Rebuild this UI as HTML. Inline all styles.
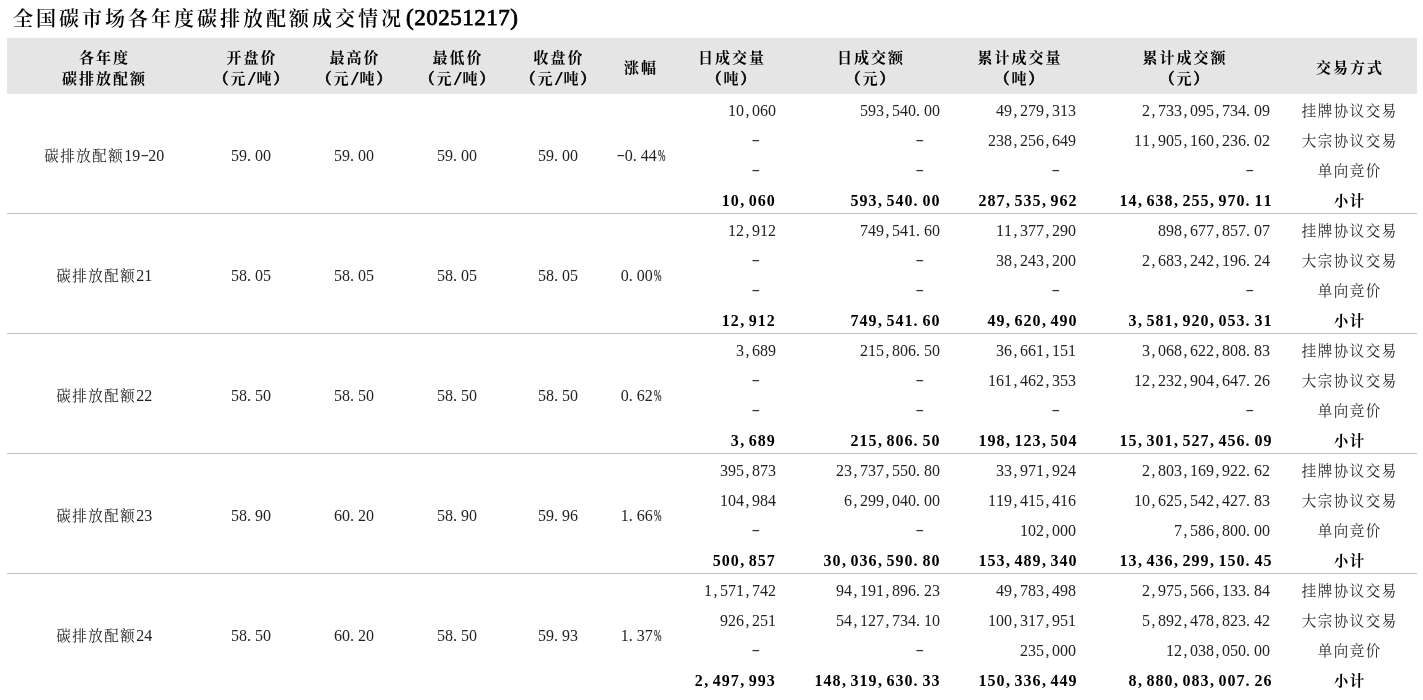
<!DOCTYPE html>
<html lang="zh-CN"><head><meta charset="utf-8"><title>全国碳市场各年度碳排放配额成交情况</title>
<style>
html,body{margin:0;padding:0;background:#fff;}
body{width:1423px;height:700px;overflow:hidden;position:relative;font-family:"Liberation Serif", "Noto Serif CJK SC", serif;}
.title{position:absolute;left:13px;top:4px;height:30px;line-height:30px;color:#000;white-space:nowrap;}
.title .cj{font-size:20px;font-weight:600;letter-spacing:3px;}
.title .n{font-size:23px;font-weight:normal;letter-spacing:0.5px;font-family:"Liberation Serif",serif;margin-left:2px;position:relative;top:-0.8px;-webkit-text-stroke:0.75px;}
.hd{position:absolute;left:7px;top:38px;width:1410px;height:56px;background:#e5e5e5;}
.t{position:absolute;white-space:nowrap;font-size:14.5px;letter-spacing:1.5px;}
.t.c{text-align:center;text-indent:1.5px}
.t.c.h{text-indent:2px}.t.r{text-align:right}
.h{font-size:15px;font-weight:bold;color:#000;letter-spacing:2px;}
.h .sl{display:inline-block;text-indent:0;width:9px;font-style:normal;text-align:center;font-family:"Liberation Serif",serif;font-size:17px;font-weight:bold;letter-spacing:0;}
.h .sl b{display:inline-block;transform:translate(-0.5px,0.6px) scale(1.6,1.12);}
.h .pa{-webkit-text-stroke:0.6px;}
.b{color:#222;}
.bb{font-weight:bold;color:#000;}
.t i{display:inline-block;font-style:normal;text-align:center;text-indent:0;font-family:"Liberation Serif",serif;font-size:16px;letter-spacing:0;}
.t i.d b{display:inline-block;font-weight:normal;color:#333;transform:translate(0px,-1px) scale(1.6,1.0);}
.t i.p{text-align:left;}
.t i.cm{text-indent:1.5px;}.t i.pd{text-indent:0px;}
.bb i.cm{text-indent:1.0px;}.bb i.pd{text-indent:0.6px;}
.t i.pc b{display:inline-block;font-weight:normal;transform:translateX(-1.9px) scaleX(0.56);-webkit-text-stroke:0.25px;}
.ln{position:absolute;left:7px;width:1410px;height:1px;background:#c0c0c0;}
</style></head><body>
<div class="title"><span class="cj">全国碳市场各年度碳排放配额成交情况</span><span class="n">(20251217)</span></div>
<div class="hd"></div>
<div class="t c h" style="left:3.5px;top:48.0px;width:200px;height:20px;line-height:20px">各年度</div>
<div class="t c h" style="left:3.5px;top:68.5px;width:200px;height:20px;line-height:20px">碳排放配额</div>
<div class="t c h" style="left:151.0px;top:48.0px;width:200px;height:20px;line-height:20px">开盘价</div>
<div class="t c h" style="left:151.0px;top:68.5px;width:200px;height:20px;line-height:20px"><span class="pa">（</span>元<i class="sl"><b>/</b></i>吨<span class="pa">）</span></div>
<div class="t c h" style="left:254.0px;top:48.0px;width:200px;height:20px;line-height:20px">最高价</div>
<div class="t c h" style="left:254.0px;top:68.5px;width:200px;height:20px;line-height:20px"><span class="pa">（</span>元<i class="sl"><b>/</b></i>吨<span class="pa">）</span></div>
<div class="t c h" style="left:357.0px;top:48.0px;width:200px;height:20px;line-height:20px">最低价</div>
<div class="t c h" style="left:357.0px;top:68.5px;width:200px;height:20px;line-height:20px"><span class="pa">（</span>元<i class="sl"><b>/</b></i>吨<span class="pa">）</span></div>
<div class="t c h" style="left:458.0px;top:48.0px;width:200px;height:20px;line-height:20px">收盘价</div>
<div class="t c h" style="left:458.0px;top:68.5px;width:200px;height:20px;line-height:20px"><span class="pa">（</span>元<i class="sl"><b>/</b></i>吨<span class="pa">）</span></div>
<div class="t c h" style="left:540.0px;top:57.5px;width:200px;height:20px;line-height:20px">涨幅</div>
<div class="t c h" style="left:631.0px;top:48.0px;width:200px;height:20px;line-height:20px">日成交量</div>
<div class="t c h" style="left:631.0px;top:68.5px;width:200px;height:20px;line-height:20px"><span class="pa">（</span>吨<span class="pa">）</span></div>
<div class="t c h" style="left:770.0px;top:48.0px;width:200px;height:20px;line-height:20px">日成交额</div>
<div class="t c h" style="left:770.0px;top:68.5px;width:200px;height:20px;line-height:20px"><span class="pa">（</span>元<span class="pa">）</span></div>
<div class="t c h" style="left:919.0px;top:48.0px;width:200px;height:20px;line-height:20px">累计成交量</div>
<div class="t c h" style="left:919.0px;top:68.5px;width:200px;height:20px;line-height:20px"><span class="pa">（</span>吨<span class="pa">）</span></div>
<div class="t c h" style="left:1084.0px;top:48.0px;width:200px;height:20px;line-height:20px">累计成交额</div>
<div class="t c h" style="left:1084.0px;top:68.5px;width:200px;height:20px;line-height:20px"><span class="pa">（</span>元<span class="pa">）</span></div>
<div class="t c h" style="left:1249.0px;top:57.5px;width:200px;height:20px;line-height:20px">交易方式</div>
<div class="t c b" style="left:-46.5px;top:140.5px;width:300px;height:30px;line-height:30px">碳排放配额<i style="width:8px">1</i><i style="width:8px">9</i><i class="d" style="width:8px"><b>-</b></i><i style="width:8px">2</i><i style="width:8px">0</i></div>
<div class="t c b" style="left:190.2px;top:140.5px;width:120px;height:30px;line-height:30px"><i style="width:8px">5</i><i style="width:8px">9</i><i class="p pd" style="width:8px">.</i><i style="width:8px">0</i><i style="width:8px">0</i></div>
<div class="t c b" style="left:293.2px;top:140.5px;width:120px;height:30px;line-height:30px"><i style="width:8px">5</i><i style="width:8px">9</i><i class="p pd" style="width:8px">.</i><i style="width:8px">0</i><i style="width:8px">0</i></div>
<div class="t c b" style="left:396.2px;top:140.5px;width:120px;height:30px;line-height:30px"><i style="width:8px">5</i><i style="width:8px">9</i><i class="p pd" style="width:8px">.</i><i style="width:8px">0</i><i style="width:8px">0</i></div>
<div class="t c b" style="left:497.2px;top:140.5px;width:120px;height:30px;line-height:30px"><i style="width:8px">5</i><i style="width:8px">9</i><i class="p pd" style="width:8px">.</i><i style="width:8px">0</i><i style="width:8px">0</i></div>
<div class="t c b" style="left:580.0px;top:140.5px;width:120px;height:30px;line-height:30px"><i class="d" style="width:8px"><b>-</b></i><i style="width:8px">0</i><i class="p pd" style="width:8px">.</i><i style="width:8px">4</i><i style="width:8px">4</i><i class="pc" style="width:8px"><b>%</b></i></div>
<div class="t r b" style="left:526.0px;top:95.5px;width:250px;height:30px;line-height:30px"><i style="width:8px">1</i><i style="width:8px">0</i><i class="p cm" style="width:8px">,</i><i style="width:8px">0</i><i style="width:8px">6</i><i style="width:8px">0</i></div>
<div class="t r b" style="left:690.0px;top:95.5px;width:250px;height:30px;line-height:30px"><i style="width:8px">5</i><i style="width:8px">9</i><i style="width:8px">3</i><i class="p cm" style="width:8px">,</i><i style="width:8px">5</i><i style="width:8px">4</i><i style="width:8px">0</i><i class="p pd" style="width:8px">.</i><i style="width:8px">0</i><i style="width:8px">0</i></div>
<div class="t r b" style="left:826.0px;top:95.5px;width:250px;height:30px;line-height:30px"><i style="width:8px">4</i><i style="width:8px">9</i><i class="p cm" style="width:8px">,</i><i style="width:8px">2</i><i style="width:8px">7</i><i style="width:8px">9</i><i class="p cm" style="width:8px">,</i><i style="width:8px">3</i><i style="width:8px">1</i><i style="width:8px">3</i></div>
<div class="t r b" style="left:1020.0px;top:95.5px;width:250px;height:30px;line-height:30px"><i style="width:8px">2</i><i class="p cm" style="width:8px">,</i><i style="width:8px">7</i><i style="width:8px">3</i><i style="width:8px">3</i><i class="p cm" style="width:8px">,</i><i style="width:8px">0</i><i style="width:8px">9</i><i style="width:8px">5</i><i class="p cm" style="width:8px">,</i><i style="width:8px">7</i><i style="width:8px">3</i><i style="width:8px">4</i><i class="p pd" style="width:8px">.</i><i style="width:8px">0</i><i style="width:8px">9</i></div>
<div class="t c b" style="left:1274.0px;top:95.5px;width:150px;height:30px;line-height:30px">挂牌协议交易</div>
<div class="t r b" style="left:526.0px;top:125.5px;width:250px;height:30px;line-height:30px"><i class="d" style="width:8px"><b>-</b></i><i style="width:16px"></i></div>
<div class="t r b" style="left:690.0px;top:125.5px;width:250px;height:30px;line-height:30px"><i class="d" style="width:8px"><b>-</b></i><i style="width:16px"></i></div>
<div class="t r b" style="left:826.0px;top:125.5px;width:250px;height:30px;line-height:30px"><i style="width:8px">2</i><i style="width:8px">3</i><i style="width:8px">8</i><i class="p cm" style="width:8px">,</i><i style="width:8px">2</i><i style="width:8px">5</i><i style="width:8px">6</i><i class="p cm" style="width:8px">,</i><i style="width:8px">6</i><i style="width:8px">4</i><i style="width:8px">9</i></div>
<div class="t r b" style="left:1020.0px;top:125.5px;width:250px;height:30px;line-height:30px"><i style="width:8px">1</i><i style="width:8px">1</i><i class="p cm" style="width:8px">,</i><i style="width:8px">9</i><i style="width:8px">0</i><i style="width:8px">5</i><i class="p cm" style="width:8px">,</i><i style="width:8px">1</i><i style="width:8px">6</i><i style="width:8px">0</i><i class="p cm" style="width:8px">,</i><i style="width:8px">2</i><i style="width:8px">3</i><i style="width:8px">6</i><i class="p pd" style="width:8px">.</i><i style="width:8px">0</i><i style="width:8px">2</i></div>
<div class="t c b" style="left:1274.0px;top:125.5px;width:150px;height:30px;line-height:30px">大宗协议交易</div>
<div class="t r b" style="left:526.0px;top:155.5px;width:250px;height:30px;line-height:30px"><i class="d" style="width:8px"><b>-</b></i><i style="width:16px"></i></div>
<div class="t r b" style="left:690.0px;top:155.5px;width:250px;height:30px;line-height:30px"><i class="d" style="width:8px"><b>-</b></i><i style="width:16px"></i></div>
<div class="t r b" style="left:826.0px;top:155.5px;width:250px;height:30px;line-height:30px"><i class="d" style="width:8px"><b>-</b></i><i style="width:16px"></i></div>
<div class="t r b" style="left:1020.0px;top:155.5px;width:250px;height:30px;line-height:30px"><i class="d" style="width:8px"><b>-</b></i><i style="width:16px"></i></div>
<div class="t c b" style="left:1274.0px;top:155.5px;width:150px;height:30px;line-height:30px">单向竞价</div>
<div class="t r b bb" style="left:525.3px;top:185.5px;width:250px;height:30px;line-height:30px"><i style="width:9px">1</i><i style="width:9px">0</i><i class="p cm" style="width:9px">,</i><i style="width:9px">0</i><i style="width:9px">6</i><i style="width:9px">0</i></div>
<div class="t r b bb" style="left:690.0px;top:185.5px;width:250px;height:30px;line-height:30px"><i style="width:9px">5</i><i style="width:9px">9</i><i style="width:9px">3</i><i class="p cm" style="width:9px">,</i><i style="width:9px">5</i><i style="width:9px">4</i><i style="width:9px">0</i><i class="p pd" style="width:9px">.</i><i style="width:9px">0</i><i style="width:9px">0</i></div>
<div class="t r b bb" style="left:827.0px;top:185.5px;width:250px;height:30px;line-height:30px"><i style="width:9px">2</i><i style="width:9px">8</i><i style="width:9px">7</i><i class="p cm" style="width:9px">,</i><i style="width:9px">5</i><i style="width:9px">3</i><i style="width:9px">5</i><i class="p cm" style="width:9px">,</i><i style="width:9px">9</i><i style="width:9px">6</i><i style="width:9px">2</i></div>
<div class="t r b bb" style="left:1022.0px;top:185.5px;width:250px;height:30px;line-height:30px"><i style="width:9px">1</i><i style="width:9px">4</i><i class="p cm" style="width:9px">,</i><i style="width:9px">6</i><i style="width:9px">3</i><i style="width:9px">8</i><i class="p cm" style="width:9px">,</i><i style="width:9px">2</i><i style="width:9px">5</i><i style="width:9px">5</i><i class="p cm" style="width:9px">,</i><i style="width:9px">9</i><i style="width:9px">7</i><i style="width:9px">0</i><i class="p pd" style="width:9px">.</i><i style="width:9px">1</i><i style="width:9px">1</i></div>
<div class="t c b bb" style="left:1274.0px;top:185.5px;width:150px;height:30px;line-height:30px">小计</div>
<div class="ln" style="top:213px"></div>
<div class="t c b" style="left:-46.5px;top:260.5px;width:300px;height:30px;line-height:30px">碳排放配额<i style="width:8px">2</i><i style="width:8px">1</i></div>
<div class="t c b" style="left:190.2px;top:260.5px;width:120px;height:30px;line-height:30px"><i style="width:8px">5</i><i style="width:8px">8</i><i class="p pd" style="width:8px">.</i><i style="width:8px">0</i><i style="width:8px">5</i></div>
<div class="t c b" style="left:293.2px;top:260.5px;width:120px;height:30px;line-height:30px"><i style="width:8px">5</i><i style="width:8px">8</i><i class="p pd" style="width:8px">.</i><i style="width:8px">0</i><i style="width:8px">5</i></div>
<div class="t c b" style="left:396.2px;top:260.5px;width:120px;height:30px;line-height:30px"><i style="width:8px">5</i><i style="width:8px">8</i><i class="p pd" style="width:8px">.</i><i style="width:8px">0</i><i style="width:8px">5</i></div>
<div class="t c b" style="left:497.2px;top:260.5px;width:120px;height:30px;line-height:30px"><i style="width:8px">5</i><i style="width:8px">8</i><i class="p pd" style="width:8px">.</i><i style="width:8px">0</i><i style="width:8px">5</i></div>
<div class="t c b" style="left:580.0px;top:260.5px;width:120px;height:30px;line-height:30px"><i style="width:8px">0</i><i class="p pd" style="width:8px">.</i><i style="width:8px">0</i><i style="width:8px">0</i><i class="pc" style="width:8px"><b>%</b></i></div>
<div class="t r b" style="left:526.0px;top:215.5px;width:250px;height:30px;line-height:30px"><i style="width:8px">1</i><i style="width:8px">2</i><i class="p cm" style="width:8px">,</i><i style="width:8px">9</i><i style="width:8px">1</i><i style="width:8px">2</i></div>
<div class="t r b" style="left:690.0px;top:215.5px;width:250px;height:30px;line-height:30px"><i style="width:8px">7</i><i style="width:8px">4</i><i style="width:8px">9</i><i class="p cm" style="width:8px">,</i><i style="width:8px">5</i><i style="width:8px">4</i><i style="width:8px">1</i><i class="p pd" style="width:8px">.</i><i style="width:8px">6</i><i style="width:8px">0</i></div>
<div class="t r b" style="left:826.0px;top:215.5px;width:250px;height:30px;line-height:30px"><i style="width:8px">1</i><i style="width:8px">1</i><i class="p cm" style="width:8px">,</i><i style="width:8px">3</i><i style="width:8px">7</i><i style="width:8px">7</i><i class="p cm" style="width:8px">,</i><i style="width:8px">2</i><i style="width:8px">9</i><i style="width:8px">0</i></div>
<div class="t r b" style="left:1020.0px;top:215.5px;width:250px;height:30px;line-height:30px"><i style="width:8px">8</i><i style="width:8px">9</i><i style="width:8px">8</i><i class="p cm" style="width:8px">,</i><i style="width:8px">6</i><i style="width:8px">7</i><i style="width:8px">7</i><i class="p cm" style="width:8px">,</i><i style="width:8px">8</i><i style="width:8px">5</i><i style="width:8px">7</i><i class="p pd" style="width:8px">.</i><i style="width:8px">0</i><i style="width:8px">7</i></div>
<div class="t c b" style="left:1274.0px;top:215.5px;width:150px;height:30px;line-height:30px">挂牌协议交易</div>
<div class="t r b" style="left:526.0px;top:245.5px;width:250px;height:30px;line-height:30px"><i class="d" style="width:8px"><b>-</b></i><i style="width:16px"></i></div>
<div class="t r b" style="left:690.0px;top:245.5px;width:250px;height:30px;line-height:30px"><i class="d" style="width:8px"><b>-</b></i><i style="width:16px"></i></div>
<div class="t r b" style="left:826.0px;top:245.5px;width:250px;height:30px;line-height:30px"><i style="width:8px">3</i><i style="width:8px">8</i><i class="p cm" style="width:8px">,</i><i style="width:8px">2</i><i style="width:8px">4</i><i style="width:8px">3</i><i class="p cm" style="width:8px">,</i><i style="width:8px">2</i><i style="width:8px">0</i><i style="width:8px">0</i></div>
<div class="t r b" style="left:1020.0px;top:245.5px;width:250px;height:30px;line-height:30px"><i style="width:8px">2</i><i class="p cm" style="width:8px">,</i><i style="width:8px">6</i><i style="width:8px">8</i><i style="width:8px">3</i><i class="p cm" style="width:8px">,</i><i style="width:8px">2</i><i style="width:8px">4</i><i style="width:8px">2</i><i class="p cm" style="width:8px">,</i><i style="width:8px">1</i><i style="width:8px">9</i><i style="width:8px">6</i><i class="p pd" style="width:8px">.</i><i style="width:8px">2</i><i style="width:8px">4</i></div>
<div class="t c b" style="left:1274.0px;top:245.5px;width:150px;height:30px;line-height:30px">大宗协议交易</div>
<div class="t r b" style="left:526.0px;top:275.5px;width:250px;height:30px;line-height:30px"><i class="d" style="width:8px"><b>-</b></i><i style="width:16px"></i></div>
<div class="t r b" style="left:690.0px;top:275.5px;width:250px;height:30px;line-height:30px"><i class="d" style="width:8px"><b>-</b></i><i style="width:16px"></i></div>
<div class="t r b" style="left:826.0px;top:275.5px;width:250px;height:30px;line-height:30px"><i class="d" style="width:8px"><b>-</b></i><i style="width:16px"></i></div>
<div class="t r b" style="left:1020.0px;top:275.5px;width:250px;height:30px;line-height:30px"><i class="d" style="width:8px"><b>-</b></i><i style="width:16px"></i></div>
<div class="t c b" style="left:1274.0px;top:275.5px;width:150px;height:30px;line-height:30px">单向竞价</div>
<div class="t r b bb" style="left:525.3px;top:305.5px;width:250px;height:30px;line-height:30px"><i style="width:9px">1</i><i style="width:9px">2</i><i class="p cm" style="width:9px">,</i><i style="width:9px">9</i><i style="width:9px">1</i><i style="width:9px">2</i></div>
<div class="t r b bb" style="left:690.0px;top:305.5px;width:250px;height:30px;line-height:30px"><i style="width:9px">7</i><i style="width:9px">4</i><i style="width:9px">9</i><i class="p cm" style="width:9px">,</i><i style="width:9px">5</i><i style="width:9px">4</i><i style="width:9px">1</i><i class="p pd" style="width:9px">.</i><i style="width:9px">6</i><i style="width:9px">0</i></div>
<div class="t r b bb" style="left:827.0px;top:305.5px;width:250px;height:30px;line-height:30px"><i style="width:9px">4</i><i style="width:9px">9</i><i class="p cm" style="width:9px">,</i><i style="width:9px">6</i><i style="width:9px">2</i><i style="width:9px">0</i><i class="p cm" style="width:9px">,</i><i style="width:9px">4</i><i style="width:9px">9</i><i style="width:9px">0</i></div>
<div class="t r b bb" style="left:1022.0px;top:305.5px;width:250px;height:30px;line-height:30px"><i style="width:9px">3</i><i class="p cm" style="width:9px">,</i><i style="width:9px">5</i><i style="width:9px">8</i><i style="width:9px">1</i><i class="p cm" style="width:9px">,</i><i style="width:9px">9</i><i style="width:9px">2</i><i style="width:9px">0</i><i class="p cm" style="width:9px">,</i><i style="width:9px">0</i><i style="width:9px">5</i><i style="width:9px">3</i><i class="p pd" style="width:9px">.</i><i style="width:9px">3</i><i style="width:9px">1</i></div>
<div class="t c b bb" style="left:1274.0px;top:305.5px;width:150px;height:30px;line-height:30px">小计</div>
<div class="ln" style="top:333px"></div>
<div class="t c b" style="left:-46.5px;top:380.5px;width:300px;height:30px;line-height:30px">碳排放配额<i style="width:8px">2</i><i style="width:8px">2</i></div>
<div class="t c b" style="left:190.2px;top:380.5px;width:120px;height:30px;line-height:30px"><i style="width:8px">5</i><i style="width:8px">8</i><i class="p pd" style="width:8px">.</i><i style="width:8px">5</i><i style="width:8px">0</i></div>
<div class="t c b" style="left:293.2px;top:380.5px;width:120px;height:30px;line-height:30px"><i style="width:8px">5</i><i style="width:8px">8</i><i class="p pd" style="width:8px">.</i><i style="width:8px">5</i><i style="width:8px">0</i></div>
<div class="t c b" style="left:396.2px;top:380.5px;width:120px;height:30px;line-height:30px"><i style="width:8px">5</i><i style="width:8px">8</i><i class="p pd" style="width:8px">.</i><i style="width:8px">5</i><i style="width:8px">0</i></div>
<div class="t c b" style="left:497.2px;top:380.5px;width:120px;height:30px;line-height:30px"><i style="width:8px">5</i><i style="width:8px">8</i><i class="p pd" style="width:8px">.</i><i style="width:8px">5</i><i style="width:8px">0</i></div>
<div class="t c b" style="left:580.0px;top:380.5px;width:120px;height:30px;line-height:30px"><i style="width:8px">0</i><i class="p pd" style="width:8px">.</i><i style="width:8px">6</i><i style="width:8px">2</i><i class="pc" style="width:8px"><b>%</b></i></div>
<div class="t r b" style="left:526.0px;top:335.5px;width:250px;height:30px;line-height:30px"><i style="width:8px">3</i><i class="p cm" style="width:8px">,</i><i style="width:8px">6</i><i style="width:8px">8</i><i style="width:8px">9</i></div>
<div class="t r b" style="left:690.0px;top:335.5px;width:250px;height:30px;line-height:30px"><i style="width:8px">2</i><i style="width:8px">1</i><i style="width:8px">5</i><i class="p cm" style="width:8px">,</i><i style="width:8px">8</i><i style="width:8px">0</i><i style="width:8px">6</i><i class="p pd" style="width:8px">.</i><i style="width:8px">5</i><i style="width:8px">0</i></div>
<div class="t r b" style="left:826.0px;top:335.5px;width:250px;height:30px;line-height:30px"><i style="width:8px">3</i><i style="width:8px">6</i><i class="p cm" style="width:8px">,</i><i style="width:8px">6</i><i style="width:8px">6</i><i style="width:8px">1</i><i class="p cm" style="width:8px">,</i><i style="width:8px">1</i><i style="width:8px">5</i><i style="width:8px">1</i></div>
<div class="t r b" style="left:1020.0px;top:335.5px;width:250px;height:30px;line-height:30px"><i style="width:8px">3</i><i class="p cm" style="width:8px">,</i><i style="width:8px">0</i><i style="width:8px">6</i><i style="width:8px">8</i><i class="p cm" style="width:8px">,</i><i style="width:8px">6</i><i style="width:8px">2</i><i style="width:8px">2</i><i class="p cm" style="width:8px">,</i><i style="width:8px">8</i><i style="width:8px">0</i><i style="width:8px">8</i><i class="p pd" style="width:8px">.</i><i style="width:8px">8</i><i style="width:8px">3</i></div>
<div class="t c b" style="left:1274.0px;top:335.5px;width:150px;height:30px;line-height:30px">挂牌协议交易</div>
<div class="t r b" style="left:526.0px;top:365.5px;width:250px;height:30px;line-height:30px"><i class="d" style="width:8px"><b>-</b></i><i style="width:16px"></i></div>
<div class="t r b" style="left:690.0px;top:365.5px;width:250px;height:30px;line-height:30px"><i class="d" style="width:8px"><b>-</b></i><i style="width:16px"></i></div>
<div class="t r b" style="left:826.0px;top:365.5px;width:250px;height:30px;line-height:30px"><i style="width:8px">1</i><i style="width:8px">6</i><i style="width:8px">1</i><i class="p cm" style="width:8px">,</i><i style="width:8px">4</i><i style="width:8px">6</i><i style="width:8px">2</i><i class="p cm" style="width:8px">,</i><i style="width:8px">3</i><i style="width:8px">5</i><i style="width:8px">3</i></div>
<div class="t r b" style="left:1020.0px;top:365.5px;width:250px;height:30px;line-height:30px"><i style="width:8px">1</i><i style="width:8px">2</i><i class="p cm" style="width:8px">,</i><i style="width:8px">2</i><i style="width:8px">3</i><i style="width:8px">2</i><i class="p cm" style="width:8px">,</i><i style="width:8px">9</i><i style="width:8px">0</i><i style="width:8px">4</i><i class="p cm" style="width:8px">,</i><i style="width:8px">6</i><i style="width:8px">4</i><i style="width:8px">7</i><i class="p pd" style="width:8px">.</i><i style="width:8px">2</i><i style="width:8px">6</i></div>
<div class="t c b" style="left:1274.0px;top:365.5px;width:150px;height:30px;line-height:30px">大宗协议交易</div>
<div class="t r b" style="left:526.0px;top:395.5px;width:250px;height:30px;line-height:30px"><i class="d" style="width:8px"><b>-</b></i><i style="width:16px"></i></div>
<div class="t r b" style="left:690.0px;top:395.5px;width:250px;height:30px;line-height:30px"><i class="d" style="width:8px"><b>-</b></i><i style="width:16px"></i></div>
<div class="t r b" style="left:826.0px;top:395.5px;width:250px;height:30px;line-height:30px"><i class="d" style="width:8px"><b>-</b></i><i style="width:16px"></i></div>
<div class="t r b" style="left:1020.0px;top:395.5px;width:250px;height:30px;line-height:30px"><i class="d" style="width:8px"><b>-</b></i><i style="width:16px"></i></div>
<div class="t c b" style="left:1274.0px;top:395.5px;width:150px;height:30px;line-height:30px">单向竞价</div>
<div class="t r b bb" style="left:525.3px;top:425.5px;width:250px;height:30px;line-height:30px"><i style="width:9px">3</i><i class="p cm" style="width:9px">,</i><i style="width:9px">6</i><i style="width:9px">8</i><i style="width:9px">9</i></div>
<div class="t r b bb" style="left:690.0px;top:425.5px;width:250px;height:30px;line-height:30px"><i style="width:9px">2</i><i style="width:9px">1</i><i style="width:9px">5</i><i class="p cm" style="width:9px">,</i><i style="width:9px">8</i><i style="width:9px">0</i><i style="width:9px">6</i><i class="p pd" style="width:9px">.</i><i style="width:9px">5</i><i style="width:9px">0</i></div>
<div class="t r b bb" style="left:827.0px;top:425.5px;width:250px;height:30px;line-height:30px"><i style="width:9px">1</i><i style="width:9px">9</i><i style="width:9px">8</i><i class="p cm" style="width:9px">,</i><i style="width:9px">1</i><i style="width:9px">2</i><i style="width:9px">3</i><i class="p cm" style="width:9px">,</i><i style="width:9px">5</i><i style="width:9px">0</i><i style="width:9px">4</i></div>
<div class="t r b bb" style="left:1022.0px;top:425.5px;width:250px;height:30px;line-height:30px"><i style="width:9px">1</i><i style="width:9px">5</i><i class="p cm" style="width:9px">,</i><i style="width:9px">3</i><i style="width:9px">0</i><i style="width:9px">1</i><i class="p cm" style="width:9px">,</i><i style="width:9px">5</i><i style="width:9px">2</i><i style="width:9px">7</i><i class="p cm" style="width:9px">,</i><i style="width:9px">4</i><i style="width:9px">5</i><i style="width:9px">6</i><i class="p pd" style="width:9px">.</i><i style="width:9px">0</i><i style="width:9px">9</i></div>
<div class="t c b bb" style="left:1274.0px;top:425.5px;width:150px;height:30px;line-height:30px">小计</div>
<div class="ln" style="top:453px"></div>
<div class="t c b" style="left:-46.5px;top:500.5px;width:300px;height:30px;line-height:30px">碳排放配额<i style="width:8px">2</i><i style="width:8px">3</i></div>
<div class="t c b" style="left:190.2px;top:500.5px;width:120px;height:30px;line-height:30px"><i style="width:8px">5</i><i style="width:8px">8</i><i class="p pd" style="width:8px">.</i><i style="width:8px">9</i><i style="width:8px">0</i></div>
<div class="t c b" style="left:293.2px;top:500.5px;width:120px;height:30px;line-height:30px"><i style="width:8px">6</i><i style="width:8px">0</i><i class="p pd" style="width:8px">.</i><i style="width:8px">2</i><i style="width:8px">0</i></div>
<div class="t c b" style="left:396.2px;top:500.5px;width:120px;height:30px;line-height:30px"><i style="width:8px">5</i><i style="width:8px">8</i><i class="p pd" style="width:8px">.</i><i style="width:8px">9</i><i style="width:8px">0</i></div>
<div class="t c b" style="left:497.2px;top:500.5px;width:120px;height:30px;line-height:30px"><i style="width:8px">5</i><i style="width:8px">9</i><i class="p pd" style="width:8px">.</i><i style="width:8px">9</i><i style="width:8px">6</i></div>
<div class="t c b" style="left:580.0px;top:500.5px;width:120px;height:30px;line-height:30px"><i style="width:8px">1</i><i class="p pd" style="width:8px">.</i><i style="width:8px">6</i><i style="width:8px">6</i><i class="pc" style="width:8px"><b>%</b></i></div>
<div class="t r b" style="left:526.0px;top:455.5px;width:250px;height:30px;line-height:30px"><i style="width:8px">3</i><i style="width:8px">9</i><i style="width:8px">5</i><i class="p cm" style="width:8px">,</i><i style="width:8px">8</i><i style="width:8px">7</i><i style="width:8px">3</i></div>
<div class="t r b" style="left:690.0px;top:455.5px;width:250px;height:30px;line-height:30px"><i style="width:8px">2</i><i style="width:8px">3</i><i class="p cm" style="width:8px">,</i><i style="width:8px">7</i><i style="width:8px">3</i><i style="width:8px">7</i><i class="p cm" style="width:8px">,</i><i style="width:8px">5</i><i style="width:8px">5</i><i style="width:8px">0</i><i class="p pd" style="width:8px">.</i><i style="width:8px">8</i><i style="width:8px">0</i></div>
<div class="t r b" style="left:826.0px;top:455.5px;width:250px;height:30px;line-height:30px"><i style="width:8px">3</i><i style="width:8px">3</i><i class="p cm" style="width:8px">,</i><i style="width:8px">9</i><i style="width:8px">7</i><i style="width:8px">1</i><i class="p cm" style="width:8px">,</i><i style="width:8px">9</i><i style="width:8px">2</i><i style="width:8px">4</i></div>
<div class="t r b" style="left:1020.0px;top:455.5px;width:250px;height:30px;line-height:30px"><i style="width:8px">2</i><i class="p cm" style="width:8px">,</i><i style="width:8px">8</i><i style="width:8px">0</i><i style="width:8px">3</i><i class="p cm" style="width:8px">,</i><i style="width:8px">1</i><i style="width:8px">6</i><i style="width:8px">9</i><i class="p cm" style="width:8px">,</i><i style="width:8px">9</i><i style="width:8px">2</i><i style="width:8px">2</i><i class="p pd" style="width:8px">.</i><i style="width:8px">6</i><i style="width:8px">2</i></div>
<div class="t c b" style="left:1274.0px;top:455.5px;width:150px;height:30px;line-height:30px">挂牌协议交易</div>
<div class="t r b" style="left:526.0px;top:485.5px;width:250px;height:30px;line-height:30px"><i style="width:8px">1</i><i style="width:8px">0</i><i style="width:8px">4</i><i class="p cm" style="width:8px">,</i><i style="width:8px">9</i><i style="width:8px">8</i><i style="width:8px">4</i></div>
<div class="t r b" style="left:690.0px;top:485.5px;width:250px;height:30px;line-height:30px"><i style="width:8px">6</i><i class="p cm" style="width:8px">,</i><i style="width:8px">2</i><i style="width:8px">9</i><i style="width:8px">9</i><i class="p cm" style="width:8px">,</i><i style="width:8px">0</i><i style="width:8px">4</i><i style="width:8px">0</i><i class="p pd" style="width:8px">.</i><i style="width:8px">0</i><i style="width:8px">0</i></div>
<div class="t r b" style="left:826.0px;top:485.5px;width:250px;height:30px;line-height:30px"><i style="width:8px">1</i><i style="width:8px">1</i><i style="width:8px">9</i><i class="p cm" style="width:8px">,</i><i style="width:8px">4</i><i style="width:8px">1</i><i style="width:8px">5</i><i class="p cm" style="width:8px">,</i><i style="width:8px">4</i><i style="width:8px">1</i><i style="width:8px">6</i></div>
<div class="t r b" style="left:1020.0px;top:485.5px;width:250px;height:30px;line-height:30px"><i style="width:8px">1</i><i style="width:8px">0</i><i class="p cm" style="width:8px">,</i><i style="width:8px">6</i><i style="width:8px">2</i><i style="width:8px">5</i><i class="p cm" style="width:8px">,</i><i style="width:8px">5</i><i style="width:8px">4</i><i style="width:8px">2</i><i class="p cm" style="width:8px">,</i><i style="width:8px">4</i><i style="width:8px">2</i><i style="width:8px">7</i><i class="p pd" style="width:8px">.</i><i style="width:8px">8</i><i style="width:8px">3</i></div>
<div class="t c b" style="left:1274.0px;top:485.5px;width:150px;height:30px;line-height:30px">大宗协议交易</div>
<div class="t r b" style="left:526.0px;top:515.5px;width:250px;height:30px;line-height:30px"><i class="d" style="width:8px"><b>-</b></i><i style="width:16px"></i></div>
<div class="t r b" style="left:690.0px;top:515.5px;width:250px;height:30px;line-height:30px"><i class="d" style="width:8px"><b>-</b></i><i style="width:16px"></i></div>
<div class="t r b" style="left:826.0px;top:515.5px;width:250px;height:30px;line-height:30px"><i style="width:8px">1</i><i style="width:8px">0</i><i style="width:8px">2</i><i class="p cm" style="width:8px">,</i><i style="width:8px">0</i><i style="width:8px">0</i><i style="width:8px">0</i></div>
<div class="t r b" style="left:1020.0px;top:515.5px;width:250px;height:30px;line-height:30px"><i style="width:8px">7</i><i class="p cm" style="width:8px">,</i><i style="width:8px">5</i><i style="width:8px">8</i><i style="width:8px">6</i><i class="p cm" style="width:8px">,</i><i style="width:8px">8</i><i style="width:8px">0</i><i style="width:8px">0</i><i class="p pd" style="width:8px">.</i><i style="width:8px">0</i><i style="width:8px">0</i></div>
<div class="t c b" style="left:1274.0px;top:515.5px;width:150px;height:30px;line-height:30px">单向竞价</div>
<div class="t r b bb" style="left:525.3px;top:545.5px;width:250px;height:30px;line-height:30px"><i style="width:9px">5</i><i style="width:9px">0</i><i style="width:9px">0</i><i class="p cm" style="width:9px">,</i><i style="width:9px">8</i><i style="width:9px">5</i><i style="width:9px">7</i></div>
<div class="t r b bb" style="left:690.0px;top:545.5px;width:250px;height:30px;line-height:30px"><i style="width:9px">3</i><i style="width:9px">0</i><i class="p cm" style="width:9px">,</i><i style="width:9px">0</i><i style="width:9px">3</i><i style="width:9px">6</i><i class="p cm" style="width:9px">,</i><i style="width:9px">5</i><i style="width:9px">9</i><i style="width:9px">0</i><i class="p pd" style="width:9px">.</i><i style="width:9px">8</i><i style="width:9px">0</i></div>
<div class="t r b bb" style="left:827.0px;top:545.5px;width:250px;height:30px;line-height:30px"><i style="width:9px">1</i><i style="width:9px">5</i><i style="width:9px">3</i><i class="p cm" style="width:9px">,</i><i style="width:9px">4</i><i style="width:9px">8</i><i style="width:9px">9</i><i class="p cm" style="width:9px">,</i><i style="width:9px">3</i><i style="width:9px">4</i><i style="width:9px">0</i></div>
<div class="t r b bb" style="left:1022.0px;top:545.5px;width:250px;height:30px;line-height:30px"><i style="width:9px">1</i><i style="width:9px">3</i><i class="p cm" style="width:9px">,</i><i style="width:9px">4</i><i style="width:9px">3</i><i style="width:9px">6</i><i class="p cm" style="width:9px">,</i><i style="width:9px">2</i><i style="width:9px">9</i><i style="width:9px">9</i><i class="p cm" style="width:9px">,</i><i style="width:9px">1</i><i style="width:9px">5</i><i style="width:9px">0</i><i class="p pd" style="width:9px">.</i><i style="width:9px">4</i><i style="width:9px">5</i></div>
<div class="t c b bb" style="left:1274.0px;top:545.5px;width:150px;height:30px;line-height:30px">小计</div>
<div class="ln" style="top:573px"></div>
<div class="t c b" style="left:-46.5px;top:620.5px;width:300px;height:30px;line-height:30px">碳排放配额<i style="width:8px">2</i><i style="width:8px">4</i></div>
<div class="t c b" style="left:190.2px;top:620.5px;width:120px;height:30px;line-height:30px"><i style="width:8px">5</i><i style="width:8px">8</i><i class="p pd" style="width:8px">.</i><i style="width:8px">5</i><i style="width:8px">0</i></div>
<div class="t c b" style="left:293.2px;top:620.5px;width:120px;height:30px;line-height:30px"><i style="width:8px">6</i><i style="width:8px">0</i><i class="p pd" style="width:8px">.</i><i style="width:8px">2</i><i style="width:8px">0</i></div>
<div class="t c b" style="left:396.2px;top:620.5px;width:120px;height:30px;line-height:30px"><i style="width:8px">5</i><i style="width:8px">8</i><i class="p pd" style="width:8px">.</i><i style="width:8px">5</i><i style="width:8px">0</i></div>
<div class="t c b" style="left:497.2px;top:620.5px;width:120px;height:30px;line-height:30px"><i style="width:8px">5</i><i style="width:8px">9</i><i class="p pd" style="width:8px">.</i><i style="width:8px">9</i><i style="width:8px">3</i></div>
<div class="t c b" style="left:580.0px;top:620.5px;width:120px;height:30px;line-height:30px"><i style="width:8px">1</i><i class="p pd" style="width:8px">.</i><i style="width:8px">3</i><i style="width:8px">7</i><i class="pc" style="width:8px"><b>%</b></i></div>
<div class="t r b" style="left:526.0px;top:575.5px;width:250px;height:30px;line-height:30px"><i style="width:8px">1</i><i class="p cm" style="width:8px">,</i><i style="width:8px">5</i><i style="width:8px">7</i><i style="width:8px">1</i><i class="p cm" style="width:8px">,</i><i style="width:8px">7</i><i style="width:8px">4</i><i style="width:8px">2</i></div>
<div class="t r b" style="left:690.0px;top:575.5px;width:250px;height:30px;line-height:30px"><i style="width:8px">9</i><i style="width:8px">4</i><i class="p cm" style="width:8px">,</i><i style="width:8px">1</i><i style="width:8px">9</i><i style="width:8px">1</i><i class="p cm" style="width:8px">,</i><i style="width:8px">8</i><i style="width:8px">9</i><i style="width:8px">6</i><i class="p pd" style="width:8px">.</i><i style="width:8px">2</i><i style="width:8px">3</i></div>
<div class="t r b" style="left:826.0px;top:575.5px;width:250px;height:30px;line-height:30px"><i style="width:8px">4</i><i style="width:8px">9</i><i class="p cm" style="width:8px">,</i><i style="width:8px">7</i><i style="width:8px">8</i><i style="width:8px">3</i><i class="p cm" style="width:8px">,</i><i style="width:8px">4</i><i style="width:8px">9</i><i style="width:8px">8</i></div>
<div class="t r b" style="left:1020.0px;top:575.5px;width:250px;height:30px;line-height:30px"><i style="width:8px">2</i><i class="p cm" style="width:8px">,</i><i style="width:8px">9</i><i style="width:8px">7</i><i style="width:8px">5</i><i class="p cm" style="width:8px">,</i><i style="width:8px">5</i><i style="width:8px">6</i><i style="width:8px">6</i><i class="p cm" style="width:8px">,</i><i style="width:8px">1</i><i style="width:8px">3</i><i style="width:8px">3</i><i class="p pd" style="width:8px">.</i><i style="width:8px">8</i><i style="width:8px">4</i></div>
<div class="t c b" style="left:1274.0px;top:575.5px;width:150px;height:30px;line-height:30px">挂牌协议交易</div>
<div class="t r b" style="left:526.0px;top:605.5px;width:250px;height:30px;line-height:30px"><i style="width:8px">9</i><i style="width:8px">2</i><i style="width:8px">6</i><i class="p cm" style="width:8px">,</i><i style="width:8px">2</i><i style="width:8px">5</i><i style="width:8px">1</i></div>
<div class="t r b" style="left:690.0px;top:605.5px;width:250px;height:30px;line-height:30px"><i style="width:8px">5</i><i style="width:8px">4</i><i class="p cm" style="width:8px">,</i><i style="width:8px">1</i><i style="width:8px">2</i><i style="width:8px">7</i><i class="p cm" style="width:8px">,</i><i style="width:8px">7</i><i style="width:8px">3</i><i style="width:8px">4</i><i class="p pd" style="width:8px">.</i><i style="width:8px">1</i><i style="width:8px">0</i></div>
<div class="t r b" style="left:826.0px;top:605.5px;width:250px;height:30px;line-height:30px"><i style="width:8px">1</i><i style="width:8px">0</i><i style="width:8px">0</i><i class="p cm" style="width:8px">,</i><i style="width:8px">3</i><i style="width:8px">1</i><i style="width:8px">7</i><i class="p cm" style="width:8px">,</i><i style="width:8px">9</i><i style="width:8px">5</i><i style="width:8px">1</i></div>
<div class="t r b" style="left:1020.0px;top:605.5px;width:250px;height:30px;line-height:30px"><i style="width:8px">5</i><i class="p cm" style="width:8px">,</i><i style="width:8px">8</i><i style="width:8px">9</i><i style="width:8px">2</i><i class="p cm" style="width:8px">,</i><i style="width:8px">4</i><i style="width:8px">7</i><i style="width:8px">8</i><i class="p cm" style="width:8px">,</i><i style="width:8px">8</i><i style="width:8px">2</i><i style="width:8px">3</i><i class="p pd" style="width:8px">.</i><i style="width:8px">4</i><i style="width:8px">2</i></div>
<div class="t c b" style="left:1274.0px;top:605.5px;width:150px;height:30px;line-height:30px">大宗协议交易</div>
<div class="t r b" style="left:526.0px;top:635.5px;width:250px;height:30px;line-height:30px"><i class="d" style="width:8px"><b>-</b></i><i style="width:16px"></i></div>
<div class="t r b" style="left:690.0px;top:635.5px;width:250px;height:30px;line-height:30px"><i class="d" style="width:8px"><b>-</b></i><i style="width:16px"></i></div>
<div class="t r b" style="left:826.0px;top:635.5px;width:250px;height:30px;line-height:30px"><i style="width:8px">2</i><i style="width:8px">3</i><i style="width:8px">5</i><i class="p cm" style="width:8px">,</i><i style="width:8px">0</i><i style="width:8px">0</i><i style="width:8px">0</i></div>
<div class="t r b" style="left:1020.0px;top:635.5px;width:250px;height:30px;line-height:30px"><i style="width:8px">1</i><i style="width:8px">2</i><i class="p cm" style="width:8px">,</i><i style="width:8px">0</i><i style="width:8px">3</i><i style="width:8px">8</i><i class="p cm" style="width:8px">,</i><i style="width:8px">0</i><i style="width:8px">5</i><i style="width:8px">0</i><i class="p pd" style="width:8px">.</i><i style="width:8px">0</i><i style="width:8px">0</i></div>
<div class="t c b" style="left:1274.0px;top:635.5px;width:150px;height:30px;line-height:30px">单向竞价</div>
<div class="t r b bb" style="left:525.3px;top:665.5px;width:250px;height:30px;line-height:30px"><i style="width:9px">2</i><i class="p cm" style="width:9px">,</i><i style="width:9px">4</i><i style="width:9px">9</i><i style="width:9px">7</i><i class="p cm" style="width:9px">,</i><i style="width:9px">9</i><i style="width:9px">9</i><i style="width:9px">3</i></div>
<div class="t r b bb" style="left:690.0px;top:665.5px;width:250px;height:30px;line-height:30px"><i style="width:9px">1</i><i style="width:9px">4</i><i style="width:9px">8</i><i class="p cm" style="width:9px">,</i><i style="width:9px">3</i><i style="width:9px">1</i><i style="width:9px">9</i><i class="p cm" style="width:9px">,</i><i style="width:9px">6</i><i style="width:9px">3</i><i style="width:9px">0</i><i class="p pd" style="width:9px">.</i><i style="width:9px">3</i><i style="width:9px">3</i></div>
<div class="t r b bb" style="left:827.0px;top:665.5px;width:250px;height:30px;line-height:30px"><i style="width:9px">1</i><i style="width:9px">5</i><i style="width:9px">0</i><i class="p cm" style="width:9px">,</i><i style="width:9px">3</i><i style="width:9px">3</i><i style="width:9px">6</i><i class="p cm" style="width:9px">,</i><i style="width:9px">4</i><i style="width:9px">4</i><i style="width:9px">9</i></div>
<div class="t r b bb" style="left:1022.0px;top:665.5px;width:250px;height:30px;line-height:30px"><i style="width:9px">8</i><i class="p cm" style="width:9px">,</i><i style="width:9px">8</i><i style="width:9px">8</i><i style="width:9px">0</i><i class="p cm" style="width:9px">,</i><i style="width:9px">0</i><i style="width:9px">8</i><i style="width:9px">3</i><i class="p cm" style="width:9px">,</i><i style="width:9px">0</i><i style="width:9px">0</i><i style="width:9px">7</i><i class="p pd" style="width:9px">.</i><i style="width:9px">2</i><i style="width:9px">6</i></div>
<div class="t c b bb" style="left:1274.0px;top:665.5px;width:150px;height:30px;line-height:30px">小计</div>
</body></html>
